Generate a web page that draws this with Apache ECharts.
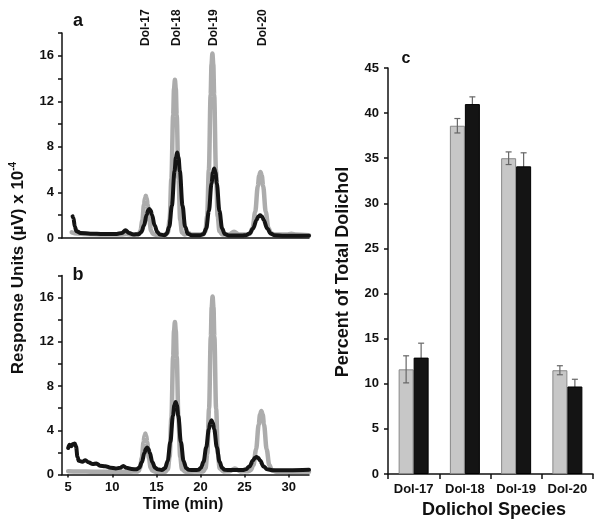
<!DOCTYPE html>
<html><head><meta charset="utf-8">
<script src="https://cdn.jsdelivr.net/npm/echarts@6/dist/echarts.min.js"></script>
<style>html,body{margin:0;padding:0;background:#fff}#chart{width:602px;height:527px}</style>
</head><body><div id="chart"></div>
<script>
// ---------- Panel a: chromatogram (time min, response x10^-4) ----------
const aGray = [[5.4,0.5],[6,0.4],[7,0.35],[9,0.3],[11,0.3],[11.6,0.35],[12.2,0.3],[12.9,0.3],
  [13.0,0.36],[13.2,0.64],[13.4,1.52],[13.6,2.94],[13.7,3.5],[13.8,3.7],[13.9,3.5],[14.0,2.94],[14.2,1.52],[14.4,0.64],[14.6,0.36],[15.0,0.28],[16.0,0.26],
  [16.3,0.48],[16.5,1.6],[16.7,5.2],[16.9,10.8],[17.0,13.1],[17.1,13.9],[17.2,13.1],[17.3,10.8],[17.5,5.2],[17.7,1.6],[17.9,0.48],[18.2,0.3],[18.6,0.45],[19.0,0.3],[20.3,0.3],
  [20.55,0.57],[20.75,1.9],[20.95,6.0],[21.15,12.6],[21.25,15.25],[21.35,16.2],[21.45,15.25],[21.55,12.6],[21.75,6.0],[21.95,1.9],[22.15,0.57],[22.5,0.3],[23.2,0.3],[23.8,0.55],[24.4,0.3],[25.3,0.3],
  [25.6,0.39],[25.9,0.85],[26.2,2.28],[26.5,4.56],[26.65,5.47],[26.8,5.8],[26.95,5.47],[27.1,4.56],[27.4,2.28],[27.7,0.85],[28.0,0.39],[28.5,0.3],[29.8,0.3],[30.3,0.38],[30.8,0.3],[32.3,0.25]];
const aBlack = [[5.5,1.9],[5.6,1.75],[5.75,1.0],[5.95,0.6],[6.4,0.45],[7.5,0.38],[9,0.35],[10.5,0.35],[11.1,0.45],[11.5,0.68],[11.9,0.45],[12.4,0.3],
  [13.0,0.34],[13.3,0.53],[13.6,1.11],[13.9,2.04],[14.05,2.42],[14.2,2.55],[14.35,2.42],[14.5,2.04],[14.8,1.11],[15.1,0.53],[15.4,0.3],[15.9,0.25],
  [16.16,0.37],[16.46,0.98],[16.76,2.86],[17.06,5.87],[17.21,7.07],[17.36,7.5],[17.51,7.07],[17.66,5.87],[17.96,2.86],[18.26,0.98],[18.56,0.37],[19.0,0.25],[20.0,0.25],
  [20.35,0.35],[20.65,0.84],[20.95,2.36],[21.25,4.78],[21.4,5.75],[21.55,6.1],[21.7,5.75],[21.85,4.78],[22.15,2.36],[22.45,0.84],[22.75,0.35],[23.2,0.22],[24.8,0.22],
  [25.16,0.25],[25.56,0.39],[25.96,0.84],[26.36,1.59],[26.56,1.89],[26.76,2.0],[26.96,1.89],[27.16,1.59],[27.56,0.84],[27.96,0.39],[28.36,0.25],[29.5,0.2],[32.3,0.2]];

// ---------- Panel b ----------
const bGray = [[5.0,0.3],[6,0.28],[8,0.25],[10,0.25],[12,0.25],[12.8,0.27],
  [13.0,0.33],[13.15,0.62],[13.35,1.5],[13.55,2.94],[13.65,3.5],[13.75,3.7],[13.85,3.5],[13.95,2.94],[14.15,1.5],[14.35,0.62],[14.55,0.33],[15.0,0.25],[16.0,0.25],
  [16.3,0.48],[16.5,1.6],[16.7,5.1],[16.9,10.7],[17.0,13.0],[17.1,13.8],[17.2,13.0],[17.3,10.7],[17.5,5.1],[17.7,1.6],[17.9,0.48],[18.3,0.25],[20.3,0.28],
  [20.57,0.55],[20.77,1.88],[20.97,5.95],[21.17,12.5],[21.27,15.15],[21.37,16.1],[21.47,15.15],[21.57,12.5],[21.77,5.95],[21.97,1.88],[22.17,0.55],[22.6,0.28],[23.3,0.3],[23.9,0.55],[24.5,0.28],[25.4,0.3],
  [25.7,0.39],[26.0,0.85],[26.3,2.27],[26.6,4.52],[26.75,5.42],[26.9,5.75],[27.05,5.42],[27.2,4.52],[27.5,2.27],[27.8,0.85],[28.1,0.39],[28.6,0.25],[32.3,0.25]];
const bBlack = [[5.0,2.4],[5.15,2.7],[5.35,2.55],[5.55,2.75],[5.75,2.8],[5.9,2.5],[6.05,1.6],[6.2,1.25],[6.6,1.15],[6.95,1.3],[7.3,1.1],[7.8,0.95],[8.2,1.0],[8.6,0.8],[9.2,0.75],[9.8,0.62],[10.4,0.55],[10.9,0.6],[11.25,0.78],[11.6,0.6],[12.2,0.5],
  [12.75,0.47],[13.05,0.61],[13.35,1.1],[13.65,1.96],[13.8,2.31],[13.95,2.45],[14.1,2.31],[14.25,1.96],[14.55,1.1],[14.85,0.61],[15.15,0.47],[15.6,0.4],
  [15.98,0.57],[16.28,1.23],[16.58,2.93],[16.88,5.33],[17.03,6.23],[17.18,6.56],[17.33,6.23],[17.48,5.33],[17.78,2.93],[18.08,1.23],[18.38,0.57],[18.68,0.42],[19.3,0.4],
  [19.75,0.43],[20.05,0.6],[20.35,1.17],[20.65,2.47],[20.95,4.1],[21.1,4.68],[21.25,4.9],[21.4,4.68],[21.55,4.1],[21.85,2.47],[22.15,1.17],[22.45,0.6],[22.75,0.43],[23.5,0.4],[24.8,0.4],
  [25.15,0.47],[25.55,0.73],[25.95,1.26],[26.15,1.49],[26.35,1.58],[26.55,1.49],[26.75,1.26],[27.15,0.73],[27.55,0.47],[28.2,0.38],[30,0.38],[32.3,0.42]];

const timeTicks = [5, 10, 15, 20, 25, 30];
const peakLabels = ['Dol-17', 'Dol-18', 'Dol-19', 'Dol-20'];
const peakLabelTimes = [13.8, 17.3, 21.5, 27.1];

// ---------- Panel c: bar chart ----------
const species = ['Dol-17', 'Dol-18', 'Dol-19', 'Dol-20'];
const grayPct = [11.6, 38.6, 35.0, 11.5];
const grayErr = [1.5, 0.8, 0.7, 0.5];
const blackPct = [12.9, 41.0, 34.1, 9.7];
const blackErr = [1.6, 0.8, 1.5, 0.8];

const FONT = "'Liberation Sans', Arial, sans-serif";
const BAR_W = 15;

function chromX(idx, showLabels) {
  return {
    type: 'value', gridIndex: idx, min: 4.3, max: 32.3,
    splitLine: {show: false},
    axisLine: {show: true, onZero: false, lineStyle: {color: '#111', width: 1.5}},
    axisTick: {show: showLabels, customValues: timeTicks, length: 3, lineStyle: {color: '#111', width: 1.5}},
    axisLabel: {show: showLabels, customValues: timeTicks, color: '#111', fontFamily: FONT, fontWeight: 'bold', fontSize: 13, margin: 6}
  };
}
function chromY(idx) {
  return {
    type: 'value', gridIndex: idx, min: 0, max: 18, interval: 2,
    splitLine: {show: false},
    axisLine: {show: true, lineStyle: {color: '#111', width: 1.5}},
    axisTick: {show: true, length: 4, lineStyle: {color: '#111', width: 1.5}},
    axisLabel: {color: '#111', fontFamily: FONT, fontWeight: 'bold', fontSize: 13, margin: 8,
      formatter: v => (v % 4 === 0 ? String(v) : '')}
  };
}
function chromLine(data, xi, color, width, z) {
  return {type: 'line', xAxisIndex: xi, yAxisIndex: xi, data: data, symbol: 'none', showSymbol: false,
    smooth: 0.35, smoothMonotone: 'x', z: z, lineStyle: {color: color, width: width, join: 'round', cap: 'round'}};
}
function errSeries(vals, errs, offset, z) {
  return {
    type: 'custom', xAxisIndex: 2, yAxisIndex: 2, z: z, silent: true,
    data: vals.map((v, i) => [i, v, errs[i]]),
    renderItem: function (params, api) {
      const i = api.value(0), v = api.value(1), e = api.value(2);
      const top = api.coord([i, v + e]);
      const bot = api.coord([i, v - e]);
      const x = top[0] + offset;
      const st = {stroke: '#666', lineWidth: 1.2};
      return {type: 'group', children: [
        {type: 'line', shape: {x1: x, y1: top[1], x2: x, y2: bot[1]}, style: st},
        {type: 'line', shape: {x1: x - 3, y1: top[1], x2: x + 3, y2: top[1]}, style: st},
        {type: 'line', shape: {x1: x - 3, y1: bot[1], x2: x + 3, y2: bot[1]}, style: st}
      ]};
    }
  };
}

const chart = echarts.init(document.getElementById('chart'), null, {renderer: 'canvas'});
chart.setOption({
  animation: false,
  backgroundColor: '#fff',
  grid: [
    {left: 62, top: 33, width: 247, height: 205},
    {left: 62, top: 275.5, width: 247, height: 199},
    {left: 388, top: 68, width: 205, height: 406}
  ],
  xAxis: [
    chromX(0, false),
    chromX(1, true),
    {type: 'category', gridIndex: 2, data: species, boundaryGap: true,
      axisLine: {show: true, lineStyle: {color: '#111', width: 1.5}},
      axisTick: {show: true, alignWithLabel: false, interval: 0, length: 5, lineStyle: {color: '#111', width: 1.5}},
      axisLabel: {interval: 0, hideOverlap: false, color: '#111', fontFamily: FONT, fontWeight: 'bold', fontSize: 13, margin: 9}}
  ],
  yAxis: [
    chromY(0),
    chromY(1),
    {type: 'value', gridIndex: 2, min: 0, max: 45, interval: 5,
      splitLine: {show: false},
      axisLine: {show: true, lineStyle: {color: '#111', width: 1.5}},
      axisTick: {show: true, length: 4, lineStyle: {color: '#111', width: 1.5}},
      axisLabel: {color: '#111', fontFamily: FONT, fontWeight: 'bold', fontSize: 13, margin: 9}}
  ],
  series: [
    chromLine(aGray, 0, '#acacac', 4.5, 2),
    chromLine(aBlack, 0, '#141414', 4, 3),
    chromLine(bGray, 1, '#acacac', 4.5, 2),
    chromLine(bBlack, 1, '#141414', 4, 3),
    {type: 'bar', xAxisIndex: 2, yAxisIndex: 2, data: grayPct, barWidth: BAR_W, barGap: '0%', z: 2,
      itemStyle: {color: '#c7c7c7', borderColor: '#888', borderWidth: 1}},
    {type: 'bar', xAxisIndex: 2, yAxisIndex: 2, data: blackPct, barWidth: BAR_W, barGap: '0%', z: 2,
      itemStyle: {color: '#141414', borderColor: '#000', borderWidth: 1}},
    errSeries(grayPct, grayErr, -BAR_W / 2, 4),
    errSeries(blackPct, blackErr, BAR_W / 2, 1)
  ]
});

// text: panel letters, axis titles, peak labels placed from data times
const txt = (text, x, y, size, rot, align) => ({
  type: 'text', x: x, y: y, rotation: rot || 0, z: 100,
  style: {text: text, fill: '#111', font: 'bold ' + size + 'px ' + FONT,
    textAlign: align || 'center', textVerticalAlign: 'middle'}
});
const graphics = [
  txt('a', 78, 21, 18), txt('b', 78, 275, 18), txt('c', 406, 59, 16),
  txt('Time (min)', 183, 505, 16),
  txt('Dolichol Species', 494, 510, 18),
  txt('Percent of Total Dolichol', 343, 272, 18, Math.PI / 2),
  {type: 'text', x: 18, y: 268, rotation: Math.PI / 2, z: 100,
    style: {text: 'Response Units (µV) x 10{sup|-4}', fill: '#111', font: 'bold 17px ' + FONT,
      textAlign: 'center', textVerticalAlign: 'middle',
      rich: {sup: {fontSize: 10, fontWeight: 'bold', fontFamily: FONT, fill: '#111', verticalAlign: 'top', padding: [0, 0, 9, 0]}}}}
];
peakLabels.forEach((lab, i) => {
  const px = chart.convertToPixel({xAxisIndex: 0}, peakLabelTimes[i]);
  graphics.push(txt(lab, px, 46, 12, Math.PI / 2, 'left'));
});
chart.setOption({graphic: {elements: graphics}});
</script></body></html>
